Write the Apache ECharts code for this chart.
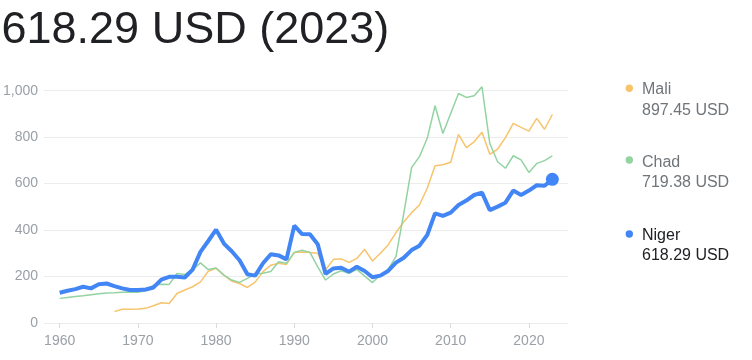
<!DOCTYPE html>
<html><head><meta charset="utf-8">
<script src="https://cdn.jsdelivr.net/npm/echarts@6/dist/echarts.min.js"></script>
<style>html,body{margin:0;padding:0;background:#fff}#c{width:752px;height:360px}</style>
</head><body><div id="c"></div>
<script>
const years = [];
for (let y = 1960; y <= 2023; y++) years.push(y);
const xTicks = [1960, 1970, 1980, 1990, 2000, 2010, 2020];
const yTicks = [0, 200, 400, 600, 800, 1000];
const maliStart = 1967;
const mali = [49,59,59,60,63,74,87,84,127,142,156,177,223,235,206,180,170,153,176,221,249,257,252,303,306,304,300,228,274,276,261,278,317,267,300,336,389,436,475,508,580,677,681,692,812,755,780,821,726,749,798,859,842,826,881,834,897.45];
const chad = [106,110,114,117,122,126,129,130,132,133,132,139,163,167,166,213,209,230,259,230,237,206,185,175,192,211,214,222,264,257,304,313,304,242,185,211,225,214,231,202,174,207,231,286,472,669,716,795,935,816,902,988,971,978,1017,773,694,666,720,702,648,687,699,719.38];
const niger = [130,139,146,156,149,167,170,159,149,142,142,144,153,187,199,199,196,230,306,353,402,342,309,270,210,204,257,296,291,274,419,383,382,339,211,235,238,221,242,224,197,204,224,260,281,314,333,379,472,461,475,508,527,551,561,486,501,518,570,551,570,593,591,618.29];
const names = ['Mali', 'Chad', 'Niger'];
const colors = ['#f7c46c', '#93d3a2', '#4285f4'];
const FONT = '"Liberation Sans", Arial, sans-serif';

const maliData = mali.map((v, i) => [maliStart + i, v]);
const chadData = chad.map((v, i) => [years[i], v]);
const nigerData = niger.map((v, i) => [years[i], v]);
const lastYear = years[years.length - 1];
const lastVals = [mali[mali.length-1], chad[chad.length-1], niger[niger.length-1]];
const fmt = v => v.toFixed(2) + ' USD';

const legendNameY = [90, 162.3, 235.8];
const legendValY = [110.6, 183, 255.5];
const legendDotY = [88.3, 160, 234];
const graphics = [];
names.forEach((n, i) => {
  const txtColor = i === 2 ? '#202124' : '#70757a';
  graphics.push({type:'circle', shape:{cx: 629.3, cy: legendDotY[i], r:3.7}, style:{fill: colors[i]}});
  graphics.push({type:'text', style:{x: 642, y: legendNameY[i], text: n, fill: txtColor, font: '16px ' + FONT, verticalAlign: 'middle'}});
  graphics.push({type:'text', style:{x: 642, y: legendValY[i], text: fmt(lastVals[i]), fill: txtColor, font: '16px ' + FONT, verticalAlign: 'middle'}});
});

const chart = echarts.init(document.getElementById('c'), null, {renderer: 'canvas'});
chart.setOption({
  animation: false,
  title: {
    text: fmt(lastVals[2]) + ' (' + lastYear + ')',
    left: 1.5, top: 8, padding: 0,
    textStyle: {fontSize: 45, fontWeight: 'normal', color: '#202124', fontFamily: FONT}
  },
  grid: {left: 43, right: 184, top: 90.7, bottom: 37},
  xAxis: {
    type: 'value', min: 1958, max: 2025,
    axisLine: {show: false},
    axisTick: {show: true, length: 5, customValues: xTicks, lineStyle: {color: '#dadce0'}},
    axisLabel: {customValues: xTicks, color: '#9aa0a6', fontSize: 14, margin: 11, fontFamily: FONT,
      formatter: v => String(v)},
    splitLine: {show: false}
  },
  yAxis: {
    type: 'value', min: 0, max: 1000, interval: 200,
    axisLine: {show: false}, axisTick: {show: false},
    axisLabel: {color: '#9aa0a6', fontSize: 14, margin: 6, fontFamily: FONT,
      formatter: v => v.toLocaleString('en-US')},
    splitLine: {lineStyle: {color: '#ececec', width: 1}}
  },
  graphic: graphics,
  series: [
    {name: 'Mali', type: 'line', data: maliData, showSymbol: false, clip: false, lineStyle: {color: colors[0], width: 1.5}, itemStyle: {color: colors[0]}, z: 2},
    {name: 'Chad', type: 'line', data: chadData, showSymbol: false, clip: false, lineStyle: {color: colors[1], width: 1.5}, itemStyle: {color: colors[1]}, z: 3},
    {name: 'Niger', type: 'line', data: nigerData, clip: false, lineStyle: {color: colors[2], width: 4}, itemStyle: {color: colors[2]}, z: 4,
      symbol: 'circle', symbolSize: (v, p) => p.dataIndex === niger.length - 1 ? 13 : 0,
      showAllSymbol: true}
  ]
});
</script></body></html>
